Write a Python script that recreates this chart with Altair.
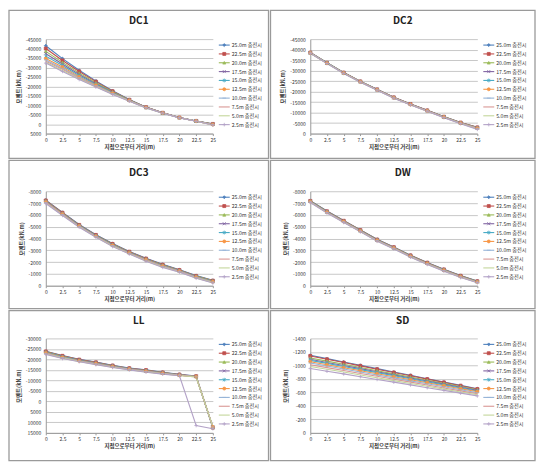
import altair as alt
import pandas as pd

X = [0, 2.5, 5, 7.5, 10, 12.5, 15, 17.5, 20, 22.5, 25]
SERIES = ["25.0m 충전시", "22.5m 충전시", "20.0m 충전시", "17.5m 충전시", "15.0m 충전시",
          "12.5m 충전시", "10.0m 충전시", "7.5m 충전시", "5.0m 충전시", "2.5m 충전시"]
COLORS = ["#4F81BD", "#C0504D", "#9BBB59", "#8064A2", "#4BACC6",
          "#F79646", "#95B3D7", "#D99694", "#C3D69B", "#B3A2C7"]
SHAPES = ["diamond", "square", "triangle-up", "M-1,-1L1,1M-1,1L1,-1",
          "M-1,-1L1,1M-1,1L1,-1M0,-1.3L0,1.3", "circle", "M-1.2,0L1.2,0",
          "circle", "circle", "M-1.2,0L1.2,0M0,-1.2L0,1.2"]
MARKED = [s for s in SERIES if s not in ("7.5m 충전시", "5.0m 충전시")]

DC1 = [
    [-41500, -34700, -28500, -22900, -17700, -13000, -9000, -6000, -3500, -1700, -200],
    [-40000, -33700, -27900, -22500, -17400, -12900, -9000, -6000, -3500, -1700, -100],
    [-38500, -32700, -27000, -21900, -17100, -12800, -8900, -5950, -3450, -1650, 0],
    [-37300, -31800, -26300, -21400, -16800, -12700, -8900, -5950, -3450, -1650, 100],
    [-36000, -31000, -25600, -21000, -16600, -12600, -8800, -5900, -3400, -1600, 150],
    [-34700, -30200, -25000, -20600, -16400, -12500, -8800, -5900, -3400, -1600, 250],
    [-34000, -29600, -24600, -20300, -16200, -12400, -8700, -5850, -3400, -1600, 300],
    [-33300, -29000, -24200, -20000, -16000, -12300, -8700, -5850, -3350, -1550, 400],
    [-32800, -28400, -23900, -19800, -15900, -12200, -8600, -5800, -3350, -1550, 450],
    [-32300, -27900, -23600, -19600, -15700, -12100, -8600, -5800, -3300, -1500, 500],
]
DC2 = [
    [-38600, -33800, -29100, -24900, -21100, -17300, -14100, -11100, -8100, -5300, -3000],
    [-38600, -33750, -29050, -24850, -21050, -17250, -14050, -11050, -8050, -5250, -2950],
    [-38550, -33700, -29000, -24800, -21000, -17200, -14000, -11000, -8000, -5200, -2900],
    [-38500, -33650, -28950, -24750, -20950, -17150, -13950, -10950, -7950, -5150, -2800],
    [-38450, -33600, -28900, -24700, -20900, -17100, -13900, -10900, -7900, -5050, -2700],
    [-38400, -33550, -28850, -24650, -20850, -17050, -13850, -10850, -7850, -5000, -2600],
    [-38350, -33500, -28800, -24600, -20800, -17000, -13800, -10800, -7800, -4950, -2500],
    [-38300, -33450, -28750, -24550, -20750, -16950, -13750, -10700, -7700, -4850, -2400],
    [-38250, -33400, -28700, -24500, -20700, -16900, -13700, -10650, -7650, -4800, -2200],
    [-38200, -33350, -28650, -24450, -20650, -16850, -13650, -10600, -7600, -4700, -2000],
]
DC3 = [
    [-7250, -6210, -5180, -4320, -3570, -2900, -2330, -1810, -1350, -860, -460],
    [-7220, -6180, -5150, -4300, -3540, -2880, -2300, -1780, -1330, -830, -430],
    [-7190, -6150, -5130, -4270, -3510, -2850, -2270, -1750, -1310, -810, -410],
    [-7150, -6120, -5100, -4250, -3480, -2830, -2240, -1720, -1280, -780, -380],
    [-7120, -6090, -5080, -4230, -3450, -2800, -2210, -1690, -1260, -760, -360],
    [-7090, -6070, -5050, -4200, -3430, -2780, -2190, -1670, -1240, -730, -330],
    [-7060, -6040, -5030, -4180, -3400, -2750, -2160, -1640, -1220, -710, -310],
    [-7030, -6010, -5000, -4160, -3370, -2730, -2130, -1610, -1200, -680, -280],
    [-6990, -5980, -4980, -4130, -3340, -2700, -2100, -1580, -1170, -660, -260],
    [-6960, -5950, -4950, -4110, -3310, -2680, -2070, -1550, -1150, -630, -230],
]
DW = [
    [-7200, -6320, -5520, -4730, -3930, -3280, -2590, -1970, -1400, -860, -400],
    [-7180, -6300, -5500, -4710, -3910, -3260, -2570, -1950, -1380, -840, -380],
    [-7170, -6280, -5480, -4690, -3890, -3240, -2550, -1930, -1360, -820, -370],
    [-7150, -6260, -5460, -4670, -3870, -3220, -2530, -1910, -1340, -800, -350],
    [-7130, -6240, -5440, -4650, -3850, -3200, -2510, -1890, -1320, -780, -330],
    [-7120, -6230, -5430, -4640, -3840, -3190, -2500, -1880, -1310, -770, -320],
    [-7100, -6210, -5410, -4620, -3820, -3170, -2480, -1860, -1290, -750, -300],
    [-7080, -6190, -5390, -4600, -3800, -3150, -2460, -1840, -1270, -730, -280],
    [-7070, -6170, -5370, -4580, -3780, -3130, -2440, -1820, -1250, -710, -270],
    [-7050, -6150, -5350, -4560, -3760, -3110, -2420, -1800, -1230, -690, -250],
]
LL = [
    [-23900, -21800, -20000, -18700, -17200, -15900, -15000, -13900, -12900, -12100, 12600],
    [-23800, -21700, -19900, -18600, -17100, -15800, -14900, -13800, -12800, -12000, 12500],
    [-23600, -21500, -19700, -18400, -17000, -15700, -14700, -13700, -12700, -11900, 12400],
    [-23400, -21300, -19600, -18300, -16900, -15600, -14600, -13600, -12700, -11900, 12300],
    [-23300, -21200, -19500, -18100, -16700, -15500, -14500, -13500, -12600, -11800, 12300],
    [-23100, -21000, -19300, -18000, -16600, -15400, -14400, -13400, -12500, -11800, 12200],
    [-22900, -20900, -19200, -17900, -16500, -15300, -14300, -13300, -12500, -11700, 12200],
    [-22800, -20700, -19100, -17700, -16400, -15200, -14100, -13200, -12400, -11600, 12100],
    [-22600, -20600, -19000, -17600, -16300, -15100, -14000, -13100, -12300, -11600, 12000],
    [-22400, -20400, -18900, -17500, -16150, -15000, -13900, -13000, -12200, 11500, 13000],
]
SD = [
    [-1150, -1100, -1051, -1001, -952, -902, -853, -803, -754, -704, -655],
    [-1140, -1091, -1042, -993, -944, -895, -846, -797, -748, -699, -650],
    [-1110, -1063, -1016, -969, -922, -875, -828, -781, -734, -687, -640],
    [-1090, -1044, -998, -952, -906, -860, -814, -768, -722, -676, -630],
    [-1075, -1030, -984, -938, -893, -848, -802, -756, -711, -666, -620],
    [-1055, -1010, -966, -922, -877, -832, -788, -744, -699, -654, -610],
    [-1035, -991, -947, -903, -859, -815, -771, -727, -683, -639, -595],
    [-1010, -967, -924, -881, -838, -795, -752, -709, -666, -623, -580],
    [-985, -943, -901, -859, -817, -775, -733, -691, -649, -607, -565],
    [-955, -914, -874, -833, -792, -752, -711, -670, -630, -589, -548],
]

FONT = "Noto Sans CJK KR"
W, H = 168, 95
X_TITLE = "지점으로부터 거리(m)"
Y_TITLE = "모멘트(kN.m)"

color_scale = alt.Scale(domain=SERIES, range=COLORS)
shape_scale = alt.Scale(domain=SERIES, range=SHAPES)


def panel(name, values, ymin, ymax, step, box):
    bx1, bx2, by1, by2 = box
    rows = [{"x": X[i], "v": vals[i], "s": SERIES[k]}
            for k, vals in enumerate(values) for i in range(len(X))]
    df = pd.DataFrame(rows)
    xscale = alt.Scale(domain=[0, 25], nice=False, zero=False)
    yscale = alt.Scale(domain=[ymin, ymax], reverse=True, nice=False, zero=False)
    xenc = alt.X("x:Q", scale=xscale,
                 axis=alt.Axis(values=X, labelExpr="'' + datum.value", title=X_TITLE,
                               grid=False, tickSize=2, labelPadding=2, titlePadding=2,
                               labelOverlap=False, labelFlush=False,
                               domainColor="#999999", tickColor="#999999"))
    base = alt.Chart(df)
    lines = base.mark_line(strokeWidth=1.1).encode(
        x=xenc,
        y=alt.Y("v:Q", scale=yscale,
                axis=alt.Axis(values=list(range(ymin, ymax + 1, step)),
                              labelExpr="'' + datum.value", title=Y_TITLE,
                              ticks=False, labelPadding=5, titlePadding=4,
                              labelOverlap=False, labelFlush=False,
                              gridColor="#c8c8c8", domainColor="#999999")),
        color=alt.Color("s:N", scale=color_scale, legend=None),
    )
    pts = base.transform_filter(
        alt.FieldOneOfPredicate(field="s", oneOf=MARKED)
    ).mark_point(filled=True, size=9, strokeWidth=0.8, opacity=1).encode(
        x=xenc,
        y=alt.Y("v:Q", scale=yscale, axis=None),
        color=alt.Color("s:N", scale=color_scale, legend=None),
        stroke=alt.Stroke("s:N", scale=color_scale, legend=None),
        shape=alt.Shape("s:N", scale=shape_scale, legend=None),
    )
    leg_df = pd.DataFrame({"s": SERIES})
    legy = alt.Y("s:N", scale=alt.Scale(type="point", domain=SERIES, range=[6, 86], padding=0),
                 axis=None)
    leg_rule = alt.Chart(leg_df).mark_rule(strokeWidth=1.1).encode(
        x=alt.value(W + 6), x2=alt.value(W + 17), y=legy,
        color=alt.Color("s:N", scale=color_scale, legend=None),
    )
    leg_pts = alt.Chart(leg_df).transform_filter(
        alt.FieldOneOfPredicate(field="s", oneOf=MARKED)
    ).mark_point(filled=True, size=9, strokeWidth=0.8, opacity=1).encode(
        x=alt.value(W + 11.5), y=legy,
        color=alt.Color("s:N", scale=color_scale, legend=None),
        stroke=alt.Stroke("s:N", scale=color_scale, legend=None),
        shape=alt.Shape("s:N", scale=shape_scale, legend=None),
    )
    leg_txt = alt.Chart(leg_df).mark_text(
        align="left", baseline="middle", fontSize=5.2, font=FONT, color="#333333"
    ).encode(x=alt.value(W + 19), y=legy, text="s:N")
    one = pd.DataFrame({"a": [1]})
    border = alt.Chart(one).mark_rect(fill="white", fillOpacity=0, stroke="#9a9a9a",
                                      strokeWidth=1.3).encode(
        x=alt.value(bx1), x2=alt.value(bx2), y=alt.value(by1), y2=alt.value(by2))
    title = alt.Chart(one).mark_text(fontSize=10, fontWeight="bold", font=FONT,
                                     color="#222222", baseline="middle").encode(
        x=alt.value((bx1 + bx2) / 2), y=alt.value(-18), text=alt.value(name))
    return alt.layer(border, title, lines, pts, leg_rule, leg_pts, leg_txt).resolve_scale(
        y="independent").properties(width=W, height=H)


LEFT = (-37, 224)
RIGHT = (-40, 226)
R1 = (-29, H + 25)
R2 = (-31, H + 23)
R3 = (-28, H + 28)

row1 = alt.hconcat(
    panel("DC1", DC1, -45000, 5000, 5000, LEFT + R1),
    panel("DC2", DC2, -45000, 0, 5000, RIGHT + R1),
    spacing=0,
)
row2 = alt.hconcat(
    panel("DC3", DC3, -8000, 0, 1000, LEFT + R2),
    panel("DW", DW, -8000, 0, 1000, RIGHT + R2),
    spacing=0,
)
row3 = alt.hconcat(
    panel("LL", LL, -30000, 15000, 5000, LEFT + R3),
    panel("SD", SD, -1400, 0, 200, RIGHT + R3),
    spacing=0,
)

chart = alt.vconcat(row1, row2, row3, spacing=0).properties(
    padding=0, background="white"
).configure_view(stroke=None).configure_axis(
    labelFont=FONT, titleFont=FONT, labelFontSize=5, titleFontSize=5.5,
    titleFontWeight="bold", labelColor="#333333", titleColor="#333333",
)

chart.save("out.html", embed_options={"renderer": "svg", "actions": False})
